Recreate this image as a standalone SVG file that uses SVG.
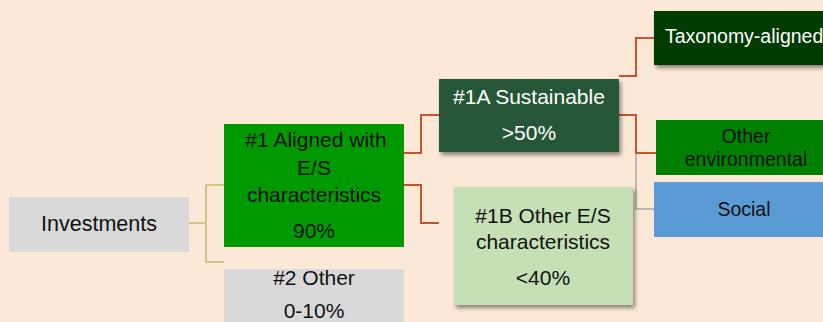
<svg xmlns="http://www.w3.org/2000/svg" width="823" height="322" viewBox="0 0 823 322">
<defs>
<filter id="sh" x="-10%" y="-10%" width="130%" height="140%">
<feGaussianBlur in="SourceAlpha" stdDeviation="2"/>
<feOffset dx="2" dy="3" result="b"/>
<feComponentTransfer><feFuncA type="linear" slope="0.45"/></feComponentTransfer>
<feMerge><feMergeNode/><feMergeNode in="SourceGraphic"/></feMerge>
</filter>
</defs>
<style>
text{font-family:"Liberation Sans",Arial,sans-serif;font-size:21px;text-anchor:middle;fill:#111}
.w{fill:#fff}
.s{font-size:19.5px}
.gold{fill:none;stroke:#D2C583;stroke-width:2}
.red{fill:none;stroke:#C8532F;stroke-width:2}
.gray{fill:none;stroke:#A6A6A6;stroke-width:1.5}
</style>
<rect width="823" height="322" fill="#FBE8D7"/>
<g id="connectors">
<path class="gold" d="M189 223H206M224 185H206V262H224"/>
<path class="red" d="M404 153H421V115H439"/>
<path class="red" d="M404 185H421V223H439"/>
<path class="gray" d="M636 153V209H654"/>
<path class="red" d="M619 76H636V38H654"/>
<path class="red" d="M619 115H636V153H656"/>
</g>
<g id="investments">
<rect x="9" y="197" width="180" height="55" fill="#D9D9D9"/>
<text x="99" y="231" style="font-size:21.5px">Investments</text>
</g>
<g id="aligned">
<rect x="224" y="124" width="180" height="123" fill="#009900"/>
<text x="316" y="147">#1 Aligned with</text>
<text x="314" y="175">E/S</text>
<text x="314" y="202">characteristics</text>
<text x="314" y="238">90%</text>
</g>
<g id="other">
<rect x="224" y="269" width="180" height="60" fill="#D9D9D9"/>
<text x="314" y="285">#2 Other</text>
<text x="314" y="318">0-10%</text>
</g>
<g id="sustainable">
<rect x="439" y="79" width="180" height="73" fill="#255738" filter="url(#sh)"/>
<text class="w" x="529" y="104">#1A Sustainable</text>
<text class="w" x="529" y="140">&gt;50%</text>
</g>
<g id="otheres">
<rect x="454" y="187" width="179" height="118" fill="#C5E0B4" filter="url(#sh)"/>
<text x="543" y="223">#1B Other E/S</text>
<text x="543" y="249">characteristics</text>
<text x="543" y="285">&lt;40%</text>
</g>
<g id="taxonomy">
<rect x="654" y="11" width="185" height="54" fill="#023A02" filter="url(#sh)"/>
<text class="w s" x="665" y="43" style="text-anchor:start">Taxonomy-aligned</text>
</g>
<g id="otherenv">
<rect x="656" y="120" width="180" height="55" fill="#008000"/>
<text class="s" x="746" y="143">Other</text>
<text class="s" x="746" y="166">environmental</text>
</g>
<g id="social">
<rect x="654" y="182" width="180" height="55" fill="#5B9BD5"/>
<text class="s" x="744" y="216">Social</text>
</g>
</svg>
